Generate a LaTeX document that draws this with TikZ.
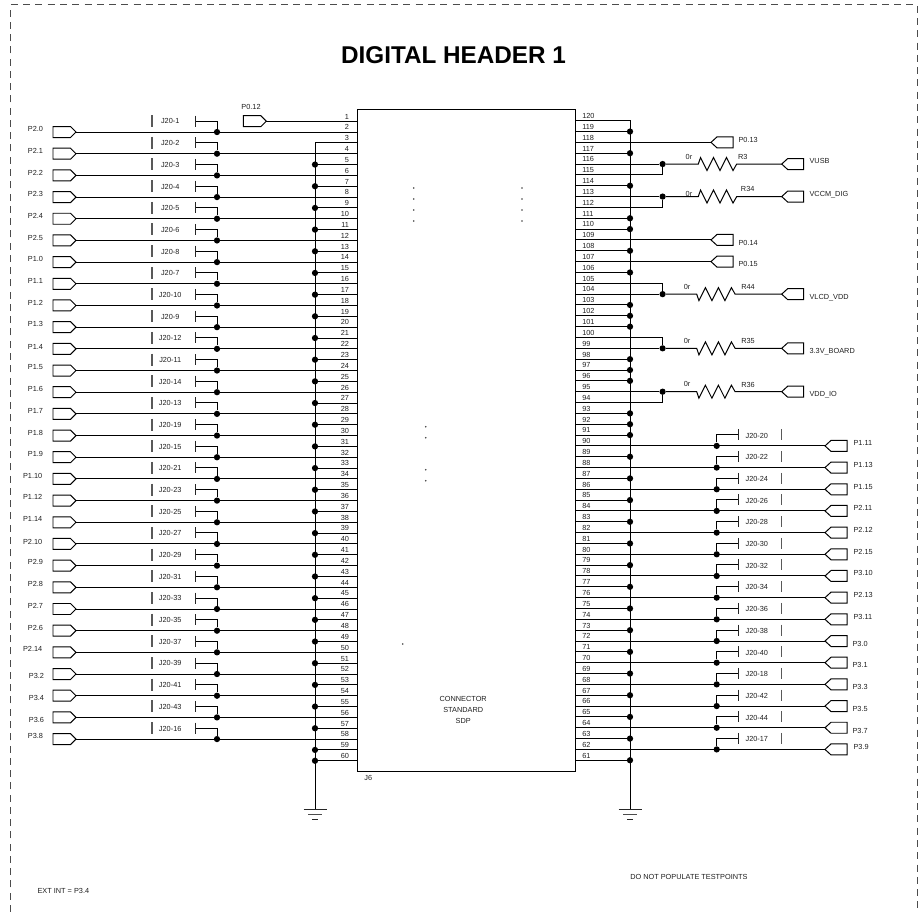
\documentclass[tikz,border=0pt]{standalone}
\usepackage{fontspec}
\setmainfont{Liberation Sans}
\begin{document}
\begin{tikzpicture}[x=0.75pt,y=-0.75pt,
  wire/.style={line width=0.74pt,black},
  jdot/.style={circle,fill=black,inner sep=0pt,minimum size=4.7pt},
  lbl/.style={font=\fontsize{5.5}{6.5}\selectfont,inner sep=0pt,text=black!88,text height=3.94pt,text depth=0pt},
  graybar/.style={line width=0.95pt,black!65},
  tickbar/.style={line width=0.74pt,black!85},
  portshape/.style={line width=0.74pt,black},
  pics/portL/.style={code={\draw[portshape] (0,0)--(-5.5,-5.5)--(-23,-5.5)--(-23,5.5)--(-5.5,5.5)--cycle;}},
  pics/portR/.style={code={\draw[portshape] (0,0)--(6,-5.5)--(22,-5.5)--(22,5.5)--(6,5.5)--cycle;}},
  pics/earth/.style={code={
    \draw[line width=0.74pt,black!85] (-11.5,0)--(11.5,0);
    \draw[line width=1pt,black!70] (-7,5.5)--(7,5.5);
    \draw[line width=0.74pt,black!85] (-2.7,10)--(2.7,10);}}
]
\useasboundingbox (0,0) rectangle (924,912);
% sheet border, open at the bottom
\draw[line width=0.7pt,black!70,dash pattern=on 5.25pt off 3.95pt] (10.7,912)--(10.7,4.5)--(917.3,4.5)--(917.3,912);
\node[font=\fontsize{18.2}{20}\selectfont\bfseries,inner sep=0pt] (title) at (453.5,55) {DIGITAL HEADER 1};
% connector
\node[draw,line width=0.74pt,minimum width=163.6pt,minimum height=496.3pt,inner sep=0pt] (J6box) at (466.5,440.8) {};
\node[lbl] (J6) at (368.3,778.3) {J6};
\node[lbl] (conn1) at (463.2,699.3) {CONNECTOR};
\node[lbl] (conn2) at (463.2,710.3) {STANDARD};
\node[lbl] (conn3) at (463.2,721.3) {SDP};
\foreach \dx/\dy [count=\i] in {413.7/188,413.7/199,413.7/210,413.7/221,522/188,522/199,522/210,522/221,425.7/426.7,425.7/437.7,425.7/469.7,425.7/480.7,402.7/644}
  \fill[black!75] (\dx,\dy) circle (0.65pt);
% pin anchors and numbers
\foreach \n in {1,...,60}{
  \pgfmathsetmacro\yy{121.2+10.84*(\n-1)}
  \coordinate (L\n) at (358,\yy);
  \node[lbl,anchor=east] (numL\n) at (349.3,\yy-4.8) {\n};
}
\foreach \n in {61,...,120}{
  \pgfmathsetmacro\yy{120.7+10.84*(120-\n)}
  \coordinate (R\n) at (575.3,\yy);
  \node[lbl,anchor=west] (numR\n) at (582,\yy-4.8) {\n};
}
% left signals
\foreach \pin/\pl/\lx/\ly/\jl in {
 2/P2.0/43.3/129/J20-1,4/P2.1/43.3/151/J20-2,6/P2.2/43.3/172.7/J20-3,8/P2.3/43.3/194.3/J20-4,
 10/P2.4/43.3/215.7/J20-5,12/P2.5/43.3/237.7/J20-6,14/P1.0/43.3/259.3/J20-8,16/P1.1/43.3/281.3/J20-7,
 18/P1.2/43.3/302.7/J20-10,20/P1.3/43.3/324.3/J20-9,22/P1.4/43.3/346.7/J20-12,24/P1.5/43.3/367.3/J20-11,
 26/P1.6/43.3/389.3/J20-14,28/P1.7/43.3/411/J20-13,30/P1.8/43.3/432.7/J20-19,32/P1.9/43.3/454.3/J20-15,
 34/P1.10/42.5/476.3/J20-21,36/P1.12/42.5/497.3/J20-23,38/P1.14/42.5/519/J20-25,40/P2.10/42.5/541.7/J20-27,
 42/P2.9/43.3/562.3/J20-29,44/P2.8/43.3/584.3/J20-31,46/P2.7/43.3/606/J20-33,48/P2.6/43.3/628.3/J20-35,
 50/P2.14/42.5/649.3/J20-37,52/P3.2/44.3/676.3/J20-39,54/P3.4/44.3/698/J20-41,56/P3.6/44.3/720/J20-43,
 58/P3.8/43.3/736.3/J20-16}{
  \pgfmathsetmacro\yy{121.2+10.84*(\pin-1)}
  \pgfmathsetmacro\ys{\yy-11}
  \pgfmathsetmacro\yl{\yy-10.7}
  \coordinate (PL\pin) at (76,\yy);
  \coordinate (TL\pin) at (195,\ys);
  \pic at (PL\pin) {portL};
  \node[lbl,anchor=east] (nameL\pin) at (\lx,\ly) {\pl};
  \node[jdot] (dL\pin) at (217,\yy) {};
  \draw[wire] (PL\pin)--(L\pin);
  \draw[wire] (TL\pin)-|(dL\pin);
  \draw[tickbar] (195,\ys-5.5)--(195,\ys+5.5);
  \draw[graybar] (152,\ys-6)--(152,\ys+6);
  \node[lbl] (tpL\pin) at (170.2,\yl) {\jl};
}
% P0.12
\coordinate (P012) at (266.3,121.2);
\pic at (P012) {portL};
\node[lbl] (nameP012) at (251,107.3) {P0.12};
\draw[wire] (P012)--(L1);
% left ground bus
\coordinate (GL) at (315,809);
\pic at (GL) {earth};
\draw[wire] (L3)-|(GL);
\foreach \n in {5,7,...,59,60}{
  \pgfmathsetmacro\yy{121.2+10.84*(\n-1)}
  \node[jdot] (bL\n) at (315,\yy) {};
  \draw[wire] (bL\n)--(L\n);
}
% right ground bus
\coordinate (GR) at (630,809);
\pic at (GR) {earth};
\draw[wire] (R120)-|(GR);
\foreach \n in {119,117,114,111,110,108,106,103,102,101,98,97,96,93,92,91,89,87,...,61}{
  \pgfmathsetmacro\yy{120.7+10.84*(120-\n)}
  \node[jdot] (bR\n) at (630,\yy) {};
  \draw[wire] (R\n)--(bR\n);
}
% plain right ports
\foreach \pin/\pl/\ly in {118/P0.13/140,109/P0.14/243.3,107/P0.15/264.3}{
  \pgfmathsetmacro\yy{120.7+10.84*(120-\pin)}
  \coordinate (PR\pin) at (711,\yy);
  \pic at (PR\pin) {portR};
  \node[lbl,anchor=west] (nameR\pin) at (738.3,\ly) {\pl};
  \draw[wire] (R\pin)--(PR\pin);
}
% resistor nets
\foreach \pin/\other/\sgn/\xs/\rn/\rx/\ry/\zx/\zy/\net/\ny in {
 116/115/-1/698.3/R3/742.7/157.3/689/156.7/VUSB/161,
 113/112/-1/698.3/R34/747.7/189.3/689/194.3/VCCM\_DIG/194.3,
 104/105/1/696.7/R44/748/287.3/687/286.7/VLCD\_VDD/297.3,
 99/100/1/696.7/R35/748/341/687/340.7/3.3V\_BOARD/351,
 95/94/1/696.7/R36/748/385/687/383.7/VDD\_IO/394.3}{
  \pgfmathsetmacro\yy{120.7+10.84*(120-\pin)}
  \pgfmathsetmacro\up{\yy+\sgn*6.5}
  \pgfmathsetmacro\dn{\yy-\sgn*6.5}
  \node[jdot] (jR\pin) at (662.6,\yy) {};
  \coordinate (PR\pin) at (781.7,\yy);
  \coordinate (rs\pin) at (\xs,\yy);
  \coordinate (re\pin) at ({\xs+38.4},\yy);
  \pic at (PR\pin) {portR};
  \draw[wire] (R\pin)--(jR\pin);
  \draw[wire] (R\other)-|(jR\pin);
  \draw[wire] (jR\pin)--(rs\pin)--({\xs+2.2},\up)--({\xs+8.7},\dn)--({\xs+15.2},\up)--({\xs+21.7},\dn)--({\xs+28.2},\up)--({\xs+34.7},\dn)--(re\pin)--(PR\pin);
  \node[lbl] (val\pin) at (\zx,\zy) {0r};
  \node[lbl] (ref\pin) at (\rx,\ry) {\rn};
  \node[lbl,anchor=west] (nameR\pin) at (809.3,\ny) {\net};
}
% right signals
\foreach \pin/\pl/\lx/\ly/\jl in {
 90/P1.11/853.3/443.3/J20-20,88/P1.13/853.3/465.3/J20-22,86/P1.15/853.3/487.3/J20-24,84/P2.11/853.3/508.3/J20-26,
 82/P2.12/853.3/530.3/J20-28,80/P2.15/853.3/552.3/J20-30,78/P3.10/853.3/573.3/J20-32,76/P2.13/853.3/595.3/J20-34,
 74/P3.11/853.3/617.3/J20-36,72/P3.0/852.3/644/J20-38,70/P3.1/852.3/665.3/J20-40,68/P3.3/852.3/687.3/J20-18,
 66/P3.5/852.3/709.3/J20-42,64/P3.7/852.3/731.3/J20-44,62/P3.9/853.3/747.3/J20-17}{
  \pgfmathsetmacro\yy{120.7+10.84*(120-\pin)}
  \pgfmathsetmacro\ys{\yy-11}
  \pgfmathsetmacro\yl{\yy-10.3}
  \coordinate (PR\pin) at (825,\yy);
  \coordinate (TR\pin) at (738.3,\ys);
  \pic at (PR\pin) {portR};
  \node[lbl,anchor=west] (nameR\pin) at (\lx,\ly) {\pl};
  \node[jdot] (dR\pin) at (716.7,\yy) {};
  \draw[wire] (R\pin)--(PR\pin);
  \draw[wire] (TR\pin)-|(dR\pin);
  \draw[tickbar] (738.3,\ys-5.5)--(738.3,\ys+5.5);
  \draw[graybar] (781.7,\ys-5.5)--(781.7,\ys+5.5);
  \node[lbl] (tpR\pin) at (756.8,\yl) {\jl};
}
\node[lbl,anchor=west] (extint) at (37.3,891.3) {EXT INT = P3.4};
\node[lbl,anchor=west] (dnp) at (630,877.3) {DO NOT POPULATE TESTPOINTS};
\end{tikzpicture}
\end{document}
